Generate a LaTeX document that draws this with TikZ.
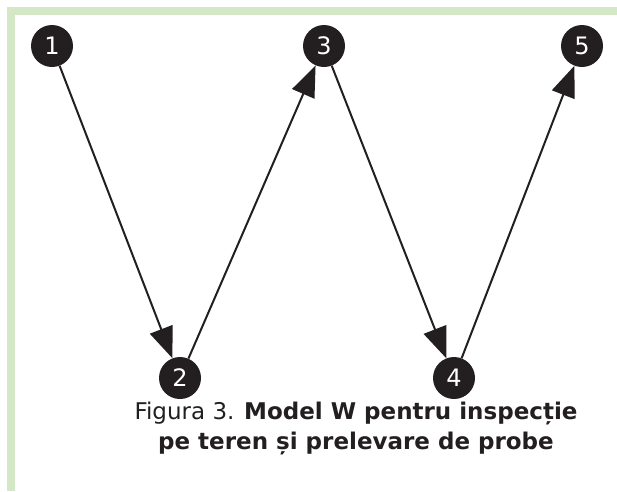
\documentclass[tikz,border=0pt]{standalone}
\usepackage{fontspec}
\setmainfont{DejaVu Sans}
\usetikzlibrary{arrows.meta}
\definecolor{framegreen}{HTML}{D4E8C6}
\definecolor{dotfill}{HTML}{231F20}
\tikzset{
  dot/.style={circle, fill=dotfill, minimum size=42pt, inner sep=0pt,
    text=white, font=\fontsize{24}{24}\selectfont},
  link/.style={draw=dotfill, line width=2pt,
    -{Triangle[length=31pt,width=24pt]}},
  caption/.style={align=center, text=dotfill, font=\fontsize{23}{30}\selectfont}
}
\begin{document}
\begin{tikzpicture}[x=1pt,y=-1pt]
  \useasboundingbox (0,0) rectangle (617,491);
  \fill[white] (0,0) rectangle (617,491);
  \fill[framegreen] (7,7) rectangle (617,15);
  \fill[framegreen] (7,7) rectangle (15,491);
  \node[dot] (n1) at (52,46) {1};
  \node[dot] (n2) at (180,378) {2};
  \node[dot] (n3) at (324,46) {3};
  \node[dot] (n4) at (454,378) {4};
  \node[dot] (n5) at (582,46) {5};
  \draw[link] (n1) -- (n2);
  \draw[link] (n2) -- (n3);
  \draw[link] (n3) -- (n4);
  \draw[link] (n4) -- (n5);
  \node[caption, anchor=base] (cap) at (356,449)
    {Figura 3. \textbf{Model W pentru inspecție}\\ \textbf{pe teren și prelevare de probe}};
\end{tikzpicture}
\end{document}
